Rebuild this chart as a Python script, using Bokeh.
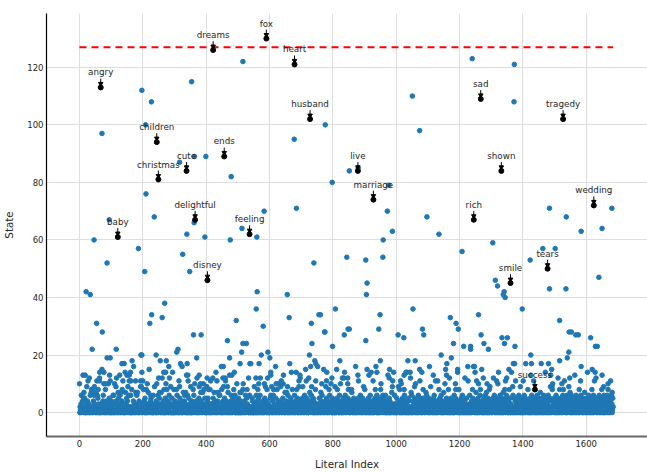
from bokeh.plotting import figure
from bokeh.models import ColumnDataSource, FixedTicker, Range1d
from bokeh.core.properties import value
from bokeh.embed import file_html
from bokeh.resources import INLINE

# ---- data -------------------------------------------------------------
# Dense low band: one value per literal index (base-36 digits, a=10 ... k=20)
band_rows = [
    "a021036612 4d05715010 0239042b01 3c02601781 0280416932 0170216058 301c001202 3f10462e03 1082041j02 3a10501b01",
    "0420136061 0a30194c01 2075103260 1720482b03 0h01270315 0419206d12 0061080120 4g13020b72 1607320140 2139091e20",
    "1283401502 0810a30712 f102465013 2006201931 0240a02163 0157230170 2c10340820 0520i18230 4016c20390 0250e30082",
    "0140328061 3020b10524 1020g03172 0463170210 06d0150320 1900430128 0621a30142 0c20310592 0137420017 2a38105210",
    "0390415081 2080b30203 1c52071402 3e02104712 0626310208 3014092150 2b30410927 0310d20146 0230152813 0620401a03",
    "1050230740 7020318a02 4013602158 3120c01620 0h12054010 2093021062 0408350120 6103k20140 0231052913 0480c20310",
    "2015620910 4068213002 5a10832014 0230194b01 2052d31007 3024710960 1302h10540 2381032016 0240e18250 0139021c40",
    "3102591402 0631f20450 1200c31724 0169320150 4012081302 01g0320513 0270416230 1f03120492 5014031280 6213a40250",
    "1024010930 2015832104 0620a13020 4105302e16 0240312c58 0130240128 7031025041 02g0301420 5b13201640 2103502914",
    "0823014031 2050d40260 3102401b03 2015821406 0320130450 18a2301462 5031206014 0230d10250 4013027192 03e0160230",
    "1052014932 0810b40120 5203186014 0230e10250 40120c1706 2014023195 0a20430120 6013f25014 0230185201 4032716203",
    "1405201309 2140310d50 6120340130 2b04182350 1260140320 7013a41205 2031480120 3015j20410 2306103582 1402e13082",
    "0410352016 0230140c21 0350120b10 2360130240 1852g31020 4170310250 1420368120 f304102503 1602470a30 5014809213",
    "0240152c31 6012403501 2a03210460 1320540170 2318402561 2030140825 0130e21096 0250h14023 1052013640 2190310250",
    "1403620150 2341208301 40250d3064 0213b05201 4032061025 0314071302 5041206013 2e04502310 6402150920 4198a21305",
    "2140360125 0c40128031 5024106382 1b53014026 0312495017 2036014205 3102d40160 2351042083 0126g14025 0310472013",
    "5024103160 2405130282 01460312e5 2c30140253 1602410358 1024096012 5031420618 0235104b21 630152",
]

# Mid-level values (literal index, state) read between 7 and 20
mid_x = [97, 134, 166, 255, 282, 319, 340, 370, 378, 403, 18, 64, 95, 144, 150, 127, 161,
         162, 157, 55, 63, 77, 83, 193, 200, 272, 266, 250, 273, 338, 343, 382, 316,
         474, 454, 448, 507, 538, 489, 481, 460, 453, 434, 567, 601, 604, 604, 619,
         557, 571, 566, 584, 669, 696, 730, 743, 746, 693, 643, 627, 716, 746, 781,
         822, 812, 780, 765, 797, 835, 830, 847,
         1160, 1156, 1159, 1194, 1226, 1247, 1249, 1275, 1105, 1081, 1037, 1060, 1031,
         1044, 1025, 950, 936, 921, 908, 979, 978, 989, 879, 939, 1124, 1168, 1075,
         1260, 1254, 1016, 1187,
         1540, 1516, 1356, 1409, 1427, 1458, 1481, 1370, 1323, 1317, 1491, 1548, 1604,
         1619, 1626, 1582, 1650, 1669, 1682, 1349, 1345, 1401, 1377, 1488, 1523]
mid_y = [19, 17, 18, 18, 16, 17, 17, 19, 13, 12, 13, 14, 13, 14, 13, 13, 14,
         11, 11, 11, 11, 10, 10, 11, 11, 14, 14, 12, 10, 13, 11, 10, 9,
         19, 16, 16, 17, 17, 14, 13, 12, 12, 11, 17, 19, 14, 13, 16,
         12, 12, 10, 10, 14, 13, 16, 18, 17, 11, 10, 10, 11, 11, 14,
         18, 15, 11, 10, 12, 12, 12, 10,
         17, 15, 13, 15, 16, 16, 14, 12, 16, 14, 18, 18, 14,
         14, 13, 18, 16, 14, 15, 15, 12, 11, 13, 14, 11, 12, 11,
         10, 11, 10, 10,
         19, 18, 15, 17, 17, 17, 17, 17, 14, 11, 15, 12, 14,
         15, 11, 11, 13, 10, 7, 12, 11, 11, 11, 13, 10]

# Scattered higher values (literal index, state)
high_x = [516, 354, 197, 227, 71, 209, 678, 776, 399, 363, 316, 479,
          1240, 1373, 1372, 1051, 1074, 852, 880, 977, 798,
          210, 236, 94, 46, 186, 87, 206, 21, 34, 54, 72, 40, 116,
          228, 222, 269, 261, 194, 197, 242, 307, 311,
          362, 339, 396, 476, 326, 348, 513, 560, 583, 685,
          561, 740, 656, 808, 558, 662, 756, 580, 732, 774, 495,
          360, 384, 467, 516, 527, 512, 595, 734, 799, 726,
          972, 1097, 988, 1135, 959, 1305, 1208, 844, 904, 958, 908, 906,
          1484, 1537, 1584, 1650, 1681, 1463, 1502, 1423, 1640, 1484, 1536,
          1313, 1320, 1341, 1338, 1344, 1398, 949, 1053, 852, 848, 836, 945,
          904, 1006, 1024, 1083, 1087, 1171, 1189, 1196, 1260, 1268, 1181,
          1213, 1235, 1235, 1277, 1291, 1334, 1351, 1342, 1375, 1516, 1546,
          1567, 1614, 1629, 1545, 1425, 1142, 1553, 1575, 1635, 775, 761]
high_y = [122, 115, 112, 108, 97, 100, 95, 100, 89, 89, 87, 82,
          123, 121, 108, 110, 98, 84, 85, 79, 80,
          76, 68, 67, 60, 57, 52, 49, 42, 41, 31, 28, 22, 22,
          34, 31, 38, 33, 20, 20, 20, 21, 22,
          66, 62, 61, 60, 55, 49, 64, 61, 70, 71,
          42, 52, 41, 36, 36, 33, 34, 30, 31, 28, 32,
          27, 27, 25, 24, 24, 21, 21, 24, 23, 20,
          70, 68, 63, 62, 60, 59, 56, 54, 53, 54, 45, 41,
          71, 68, 63, 64, 71, 57, 57, 53, 47, 43, 43,
          46, 44, 42, 41, 40, 36, 34, 36, 29, 29, 27, 29,
          25, 27, 26, 29, 27, 33, 31, 29, 34, 27, 24,
          23, 23, 22, 24, 22, 26, 26, 24, 23, 32, 28,
          27, 26, 23, 21, 20, 20, 28, 27, 23, 28, 34]

# Annotated words
words = ["angry", "baby", "children", "christmas", "cute", "delightful", "dreams",
         "disney", "ends", "feeling", "fox", "heart", "husband", "live", "marriage",
         "rich", "sad", "shown", "smile", "success", "tears", "tragedy", "wedding"]
word_x = [67, 121, 244, 249, 338, 365, 422, 404, 457, 537, 590, 679, 728, 879, 928,
          1245, 1267, 1332, 1361, 1438, 1478, 1527, 1624]
word_y = [113, 61, 94, 81, 84, 67, 126, 46, 89, 62, 130, 121, 102, 84, 74,
          67, 109, 84, 45, 8, 50, 102, 72]

threshold = 127
x_ticks = [0, 200, 400, 600, 800, 1000, 1200, 1400, 1600]
y_ticks = [0, 20, 40, 60, 80, 100, 120]

# ---- build ------------------------------------------------------------
band_vals = [int(c, 36) for c in "".join(r.replace(" ", "") for r in band_rows)]
band_idx = list(range(len(band_vals)))

FONT = "DejaVu Sans"
TXT = "#262626"

p = figure(width=647, height=472, output_backend="svg", toolbar_location=None,
           x_range=Range1d(-104.2, 1793.5), y_range=Range1d(-8.32, 138.7),
           min_border_left=46, min_border_right=0, min_border_top=13,
           min_border_bottom=35)
p.outline_line_color = None
p.background_fill_color = "white"

# grid
p.xgrid.ticker = FixedTicker(ticks=x_ticks)
p.ygrid.ticker = FixedTicker(ticks=y_ticks)
for g in (p.xgrid, p.ygrid):
    g.grid_line_color = "#dedede"
    g.grid_line_width = 1

# axes
p.xaxis.ticker = FixedTicker(ticks=x_ticks)
p.yaxis.ticker = FixedTicker(ticks=y_ticks)
for ax in (p.xaxis, p.yaxis):
    ax.major_tick_out = 0
    ax.major_tick_in = 0
    ax.minor_tick_out = 0
    ax.minor_tick_in = 0
    ax.major_label_text_font = FONT
    ax.major_label_text_font_size = "8.5px"
    ax.major_label_text_color = TXT
    ax.axis_label_text_font = FONT
    ax.axis_label_text_font_size = "10.3px"
    ax.axis_label_text_font_style = "normal"
    ax.axis_label_text_color = TXT
    ax.major_label_standoff = 3
p.xaxis.axis_label = "Literal Index"
p.yaxis.axis_label = "State"
p.xaxis.axis_label_standoff = 8
p.yaxis.axis_label_standoff = 9
p.yaxis.axis_line_color = "black"
p.yaxis.axis_line_width = 1.2
p.xaxis.axis_line_color = "#6a6a6a"
p.xaxis.axis_line_width = 2

# scatter
BLUE = "#1f77b4"
p.scatter(band_idx, band_vals, size=4.6, color=BLUE, line_color=BLUE)
p.scatter(mid_x, mid_y, size=4.6, color=BLUE, line_color=BLUE)
p.scatter(high_x, high_y, size=4.6, color=BLUE, line_color=BLUE)

# threshold line
p.line([0, band_idx[-1]], [threshold, threshold], line_color="red",
       line_width=2, line_dash="7 5")

# annotations
src = ColumnDataSource(dict(
    x=word_x, y=word_y, word=words,
    y_top=[v + 3.1 for v in word_y],
    y_head=[v + 1.3 for v in word_y],
))
p.segment(x0="x", y0="y_top", x1="x", y1="y_head", source=src,
          line_color="black", line_width=1)
p.scatter(x="x", y="y_head", source=src, marker="inverted_triangle", size=4.5,
          color="black")
p.scatter(x="x", y="y", source=src, size=5, color="black")
p.text(x="x", y="y", text="word", source=src, text_align="center",
       text_baseline="middle", y_offset=-15, text_font=value(FONT),
       text_font_size="8.75px", text_color=TXT)

open("out.html", "w").write(file_html(p, INLINE))
